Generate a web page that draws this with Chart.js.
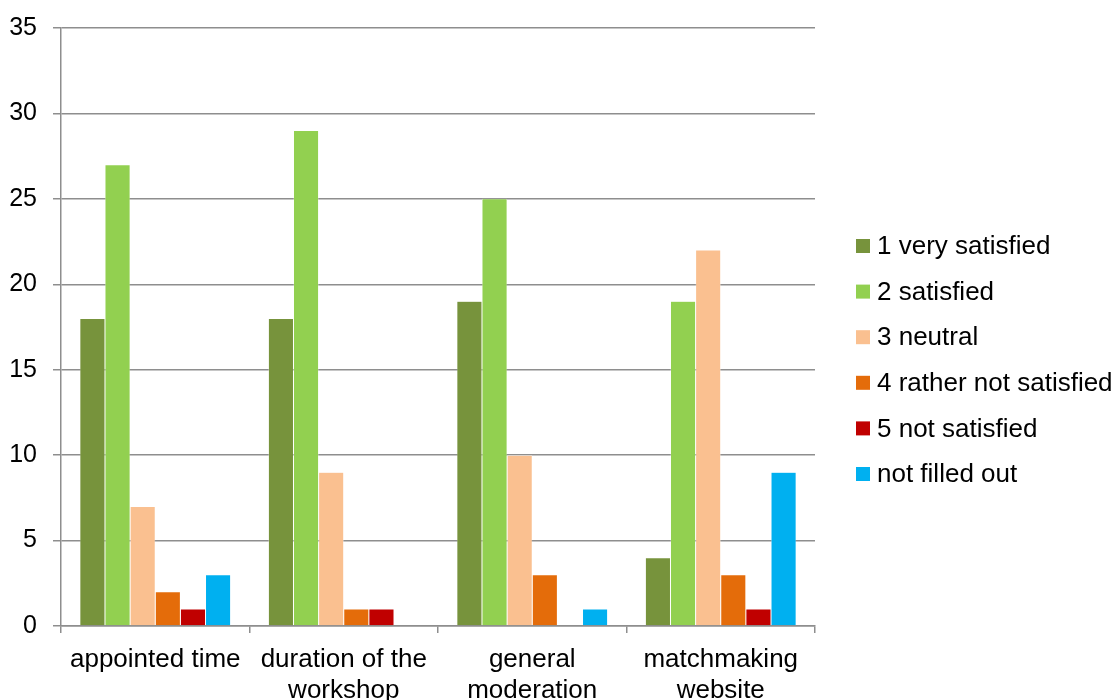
<!DOCTYPE html>
<html>
<head>
<meta charset="utf-8">
<title>Workshop satisfaction</title>
<script src="https://cdn.jsdelivr.net/npm/chart.js@4/dist/chart.umd.min.js"></script>
<style>
  html, body { margin: 0; padding: 0; background: #fff; }
  #wrap { width: 1120px; height: 700px; position: relative; }
</style>
</head>
<body>
<div id="wrap"><canvas id="chart" width="1120" height="700"></canvas></div>
<script>
// Survey answers per workshop aspect
const categories = [
  'appointed time',
  ['duration of the', 'workshop'],
  ['general', 'moderation'],
  ['matchmaking', 'website']
];
const seriesNames = [
  '1 very satisfied',
  '2 satisfied',
  '3 neutral',
  '4 rather not satisfied',
  '5 not satisfied',
  'not filled out'
];
const verySatisfied      = [18, 18, 19, 4];
const satisfied          = [27, 29, 25, 19];
const neutral            = [7, 9, 10, 22];
const ratherNotSatisfied = [2, 1, 3, 3];
const notSatisfied       = [1, 1, 0, 1];
const notFilledOut       = [3, 0, 1, 9];
const seriesColors = ['#77933C', '#92D050', '#FAC090', '#E46C0A', '#C00000', '#00B0F0'];

const seriesValues = [verySatisfied, satisfied, neutral, ratherNotSatisfied, notSatisfied, notFilledOut];

const FONT = '"Liberation Sans", Arial, sans-serif';
const GRID = '#8e8e8e';

// Legend drawn to the right of the plot, square swatch + label per series
const sideLegend = {
  id: 'sideLegend',
  afterDraw(chart) {
    const ctx = chart.ctx;
    const area = chart.chartArea;
    const x0 = area.right + 41;
    const yStart = 246;
    const step = 45.6;
    ctx.save();
    ctx.font = '26px ' + FONT;
    ctx.textBaseline = 'middle';
    ctx.textAlign = 'left';
    chart.data.datasets.forEach((ds, i) => {
      const y = yStart + i * step;
      ctx.fillStyle = ds.backgroundColor;
      ctx.fillRect(x0, y - 7, 14, 14);
      ctx.fillStyle = '#000';
      ctx.fillText(ds.label, x0 + 21, y + 1);
    });
    ctx.restore();
  }
};

new Chart(document.getElementById('chart'), {
  type: 'bar',
  data: {
    labels: categories,
    datasets: seriesNames.map((name, i) => ({
      label: name,
      data: seriesValues[i],
      backgroundColor: seriesColors[i],
      borderColor: 'rgba(255,255,255,0.85)',
      borderWidth: { left: 0.5, right: 0.5, top: 0.5, bottom: 0 },
      categoryPercentage: 0.8,
      barPercentage: 1.0
    }))
  },
  options: {
    responsive: false,
    animation: false,
    devicePixelRatio: 1,
    layout: { padding: { top: 28, right: 305, left: 0, bottom: 0 } },
    plugins: {
      legend: { display: false },
      tooltip: { enabled: false }
    },
    scales: {
      x: {
        offset: true,
        grid: {
          offset: true,
          drawOnChartArea: false,
          drawTicks: true,
          tickLength: 7,
          lineWidth: 1.5,
          color: GRID
        },
        border: { display: true, color: GRID, width: 1.5 },
        ticks: {
          color: '#000',
          font: { family: FONT, size: 26, lineHeight: 1.2 },
          padding: 11,
          maxRotation: 0,
          minRotation: 0,
          autoSkip: false
        },
        afterFit(scale) { scale.height = 74; }
      },
      y: {
        min: 0,
        max: 35,
        ticks: {
          stepSize: 5,
          color: '#000',
          font: { family: FONT, size: 25 },
          padding: 16
        },
        grid: {
          color: GRID,
          lineWidth: 1.5,
          drawTicks: true,
          tickLength: 8
        },
        border: { display: true, color: GRID, width: 1.5 },
        afterFit(scale) {
          scale.width = 61;
          scale.paddingTop = 0;
          scale.paddingBottom = 0;
        }
      }
    }
  },
  plugins: [sideLegend]
});
</script>
</body>
</html>
